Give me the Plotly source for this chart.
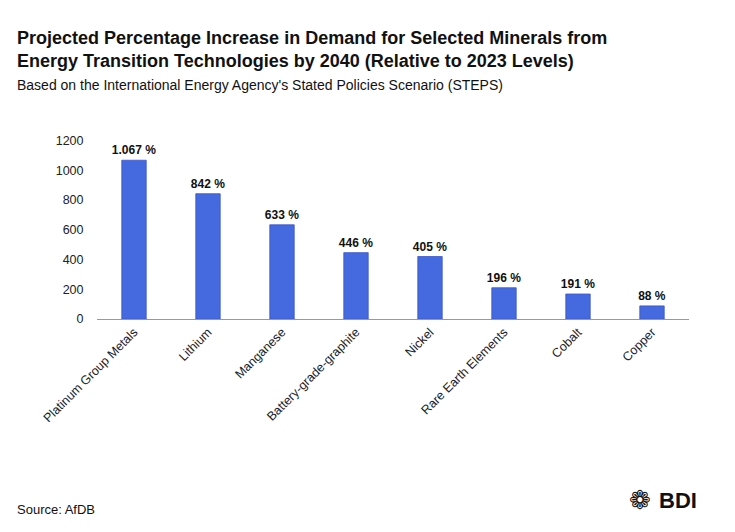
import plotly.graph_objects as go

categories = ["Platinum Group Metals", "Lithium", "Manganese", "Battery-grade-graphite",
              "Nickel", "Rare Earth Elements", "Cobalt", "Copper"]
bar_values = [1067, 842, 633, 446, 420, 210, 168, 88]
value_labels = ["1.067 %", "842 %", "633 %", "446 %", "405 %", "196 %", "191 %", "88 %"]
y_ticks = [0, 200, 400, 600, 800, 1000, 1200]

FONT = "Liberation Sans, Arial, Helvetica, sans-serif"
W, H = 735, 532
L, R, T, B = 97, 46, 133, 213
PH = H - T - B
PW = W - L - R

def py(p):
    return (H - B - p) / PH

def px(p):
    return (p - L) / PW

fig = go.Figure()
fig.add_trace(go.Bar(
    x=categories, y=bar_values,
    text=value_labels, textposition="outside", cliponaxis=False,
    constraintext="none",
    textfont=dict(family=FONT, size=12, color="#111111", weight="bold"),
    marker=dict(color="#4569df", line=dict(color="#3d55c8", width=0.8)),
    hoverinfo="skip",
))

fig.update_layout(
    width=W, height=H,
    margin=dict(l=L, r=R, t=T, b=B),
    paper_bgcolor="white", plot_bgcolor="white",
    bargap=0.67,
    showlegend=False,
    font=dict(family=FONT, color="#222222"),
    xaxis=dict(
        tickangle=-45, tickfont=dict(family=FONT, size=12.5, color="#222222"),
        showline=True, linecolor="#999999", linewidth=1,
        showgrid=False, ticks="", fixedrange=True,
    ),
    yaxis=dict(
        range=[0, 1250], tickvals=y_ticks,
        tickfont=dict(family=FONT, size=12.5, color="#222222"),
        showgrid=False, zeroline=False, showline=False,
        ticks="outside", ticklen=10, tickcolor="rgba(0,0,0,0)",
        fixedrange=True,
    ),
    annotations=[
        dict(text="<b>Projected Percentage Increase in Demand for Selected Minerals from<br>Energy Transition Technologies by 2040 (Relative to 2023 Levels)</b>",
             xref="paper", yref="paper", x=px(15), y=py(26), xanchor="left", yanchor="top",
             align="left", showarrow=False, font=dict(family=FONT, size=18, color="#111111")),
        dict(text="Based on the International Energy Agency's Stated Policies Scenario (STEPS)",
             xref="paper", yref="paper", x=px(15), y=py(75), xanchor="left", yanchor="top",
             showarrow=False, font=dict(family=FONT, size=14, color="#111111")),
        dict(text="Source: AfDB",
             xref="paper", yref="paper", x=px(15), y=py(509), xanchor="left", yanchor="middle",
             showarrow=False, font=dict(family=FONT, size=13, color="#111111")),
        dict(text="<b>BDI</b>",
             xref="paper", yref="paper", x=px(699), y=py(500), xanchor="right", yanchor="middle",
             showarrow=False, font=dict(family="Liberation Sans, Arial", size=22, color="#111111")),
        dict(text="❁",
             xref="paper", yref="paper", x=px(640), y=py(500), xanchor="center", yanchor="middle",
             showarrow=False, font=dict(family="DejaVu Sans", size=26, color="#111111")),
    ],
)

fig.write_html("out.html", config={"displayModeBar": False},
               post_script="document.body.style.margin='0';")
